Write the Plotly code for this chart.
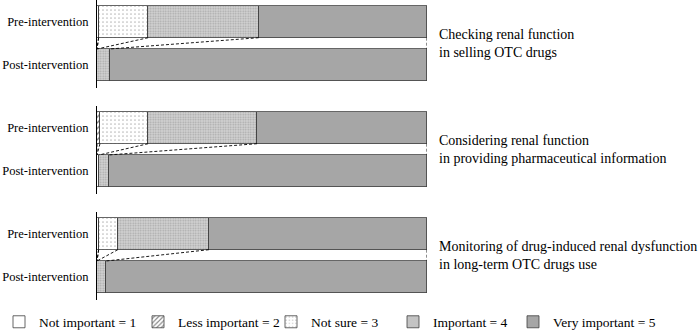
import plotly.graph_objects as go
from plotly.subplots import make_subplots
import numpy as np

categories = ["Not important = 1", "Less important = 2", "Not sure = 3",
              "Important = 4", "Very important = 5"]
items = ["Checking renal function<br>in selling OTC drugs",
         "Considering renal function<br>in providing pharmaceutical information",
         "Monitoring of drug-induced renal dysfunction<br>in long-term OTC drugs use"]
row_labels = ["Pre-intervention", "Post-intervention"]

pre_values = [
    [0.5, 0.0, 15.0, 33.5, 51.0],
    [0.0, 0.9, 14.6, 33.0, 51.5],
    [0.5, 0.0, 5.8, 27.6, 66.1],
]
post_values = [
    [0.0, 0.0, 0.0, 3.8, 96.2],
    [0.0, 0.0, 0.6, 2.9, 96.5],
    [0.0, 0.0, 0.0, 2.8, 97.2],
]

W, H = 700, 334
L, R = 97, 273
PW = W - L - R
FONT = "Liberation Serif, Times New Roman, serif"

outline = dict(color="#404040", width=0.8)
patterns = [
    dict(shape="", bgcolor="white"),
    dict(shape="/", fgcolor="black", bgcolor="white", size=4, solidity=0.35),
    dict(shape=".", fgcolor="#7a7a7a", bgcolor="white", size=4, solidity=0.15),
    dict(shape=".", fgcolor="#7a7a7a", bgcolor="#d4d4d4", size=2.5, solidity=0.4),
    dict(shape="", bgcolor="#a6a6a6"),
]
fills = ["white", "white", "white", "#d4d4d4", "#a6a6a6"]

panel_px = [(0, 88), (106, 194), (212, 300)]
fig = make_subplots(rows=3, cols=1, shared_xaxes=False, vertical_spacing=0.05)

bw = 0.74
legend_text_px = [39, 178, 311, 433, 553]

for g in range(3):
    r = g + 1
    for i, cat in enumerate(categories):
        leg = "legend" if i == 0 else f"legend{i+1}"
        fig.add_trace(go.Bar(
            x=[post_values[g][i], pre_values[g][i]],
            y=[0, 1],
            orientation="h",
            width=bw,
            name=cat,
            marker=dict(color=fills[i], line=outline, pattern=patterns[i]),
            showlegend=(g == 0),
            legend=leg,
            hoverinfo="skip",
        ), row=r, col=1)
    cpre = np.cumsum(pre_values[g])
    cpost = np.cumsum(post_values[g])
    xs, ys = [], []
    for a, b in zip(cpre, cpost):
        xs += [a, b, None]
        ys += [1 - bw / 2, bw / 2, None]
    fig.add_trace(go.Scatter(x=xs, y=ys, mode="lines",
                             line=dict(color="black", width=0.9, dash="3px,2px"),
                             showlegend=False, hoverinfo="skip"), row=r, col=1)

fig.update_layout(barmode="stack", bargap=0)

for g in range(3):
    top, bot = panel_px[g]
    dom = [1 - bot / H, 1 - top / H]
    yk = "yaxis" if g == 0 else f"yaxis{g+1}"
    xk = "xaxis" if g == 0 else f"xaxis{g+1}"
    fig.layout[yk].update(domain=dom, range=[-0.53, 1.5], tickvals=[1, 0],
                          ticktext=row_labels, showgrid=False, zeroline=False,
                          showline=True, linecolor="black", linewidth=1.2,
                          ticks="outside", ticklen=5, tickcolor="rgba(0,0,0,0)",
                          automargin=False,
                          tickfont=dict(family=FONT, size=12.5, color="black"))
    fig.layout[xk].update(range=[0, 100], visible=False, showgrid=False,
                          zeroline=False, automargin=False)

for g in range(3):
    yref = "y" if g == 0 else f"y{g+1}"
    fig.add_annotation(text=items[g], xref="paper", yref=yref,
                       x=(437 - L) / PW, y=0.5,
                       xanchor="left", yanchor="middle", align="left", showarrow=False,
                       font=dict(family=FONT, size=14, color="black"))

legends = {}
for i in range(5):
    key = "legend" if i == 0 else f"legend{i+1}"
    legends[key] = dict(x=(legend_text_px[i] - 40 - L) / PW, y=1 - 322 / H,
                        xanchor="left", yanchor="middle", orientation="h",
                        bgcolor="rgba(0,0,0,0)", itemwidth=30,
                        font=dict(family=FONT, size=13.5, color="black"))

fig.update_layout(
    width=W, height=H,
    margin=dict(l=L, r=R, t=0, b=0, autoexpand=False),
    plot_bgcolor="white", paper_bgcolor="white",
    font=dict(family=FONT, size=13, color="black"),
    **legends,
)

fig.write_html("out.html", config={"displayModeBar": False},
               post_script="document.body.style.margin='0';document.body.style.padding='0';")
